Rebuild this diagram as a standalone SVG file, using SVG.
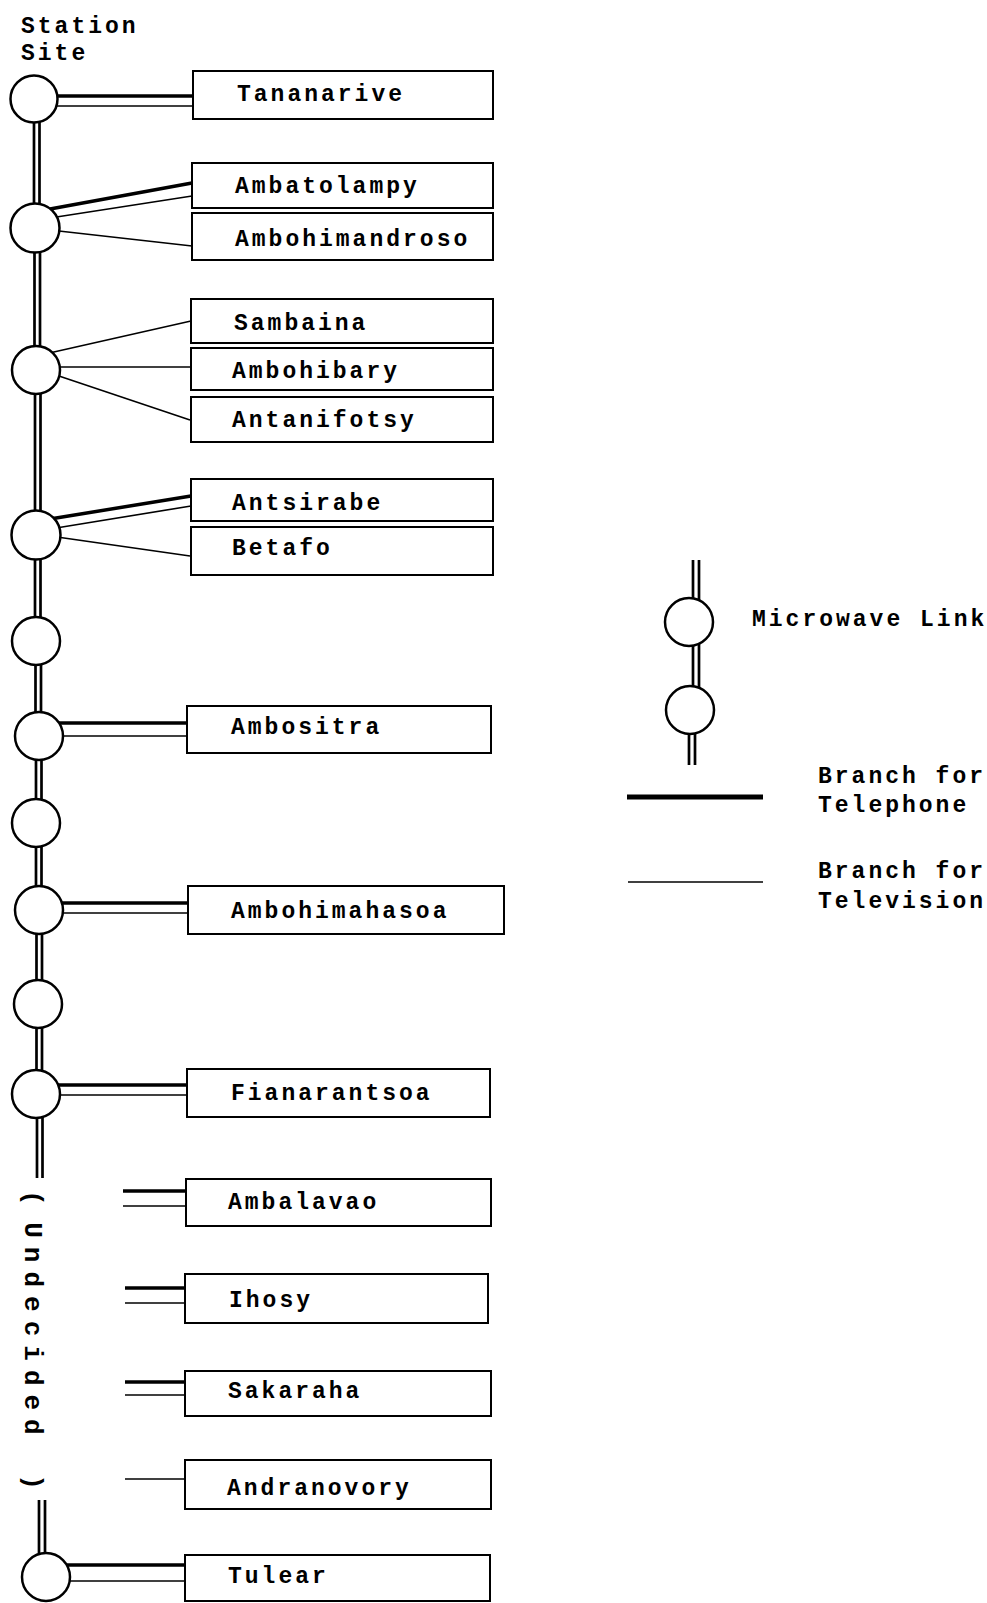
<svg xmlns="http://www.w3.org/2000/svg" width="987" height="1603" viewBox="0 0 987 1603">
<style>
.bg{fill:#fff}
.box{fill:#fff;stroke:#000;stroke-width:2}
.stn{fill:#fff;stroke:#000;stroke-width:2.5}
.main{stroke:#000;stroke-width:2.7;fill:none}
.tel{stroke:#000;stroke-width:3.5;fill:none}
.tv{stroke:#000;stroke-width:1.6;fill:none}
text{font-family:"Liberation Mono","DejaVu Sans Mono",monospace;font-weight:bold;font-size:23px;letter-spacing:3px;fill:#000}
.vert{font-size:26px;letter-spacing:9px}
</style>
<rect class="bg" x="0" y="0" width="987" height="1603"/>

<text x="21" y="33">Station</text>
<text x="21" y="60">Site</text>

<g id="connectors">
  <!-- main microwave trunk (double line) -->
  <path class="main" d="M34,99 V228 M39.5,99 V228"/>
  <path class="main" d="M34.5,228 V370 M40,228 V370"/>
  <path class="main" d="M35,370 V535 M40.5,370 V535"/>
  <path class="main" d="M35,535 V641 M40.5,535 V641"/>
  <path class="main" d="M35.5,641 V736 M41,641 V736"/>
  <path class="main" d="M36,736 V823 M41.5,736 V823"/>
  <path class="main" d="M36,823 V910 M41.5,823 V910"/>
  <path class="main" d="M36.5,910 V1004 M42,910 V1004"/>
  <path class="main" d="M36.5,1004 V1094 M42,1004 V1094"/>
  <path class="main" d="M37,1094 V1178 M42.5,1094 V1178"/>
  <path class="main" d="M39,1500 V1577 M45,1500 V1577"/>

  <!-- Tananarive -->
  <line class="tel" x1="50" y1="96" x2="193" y2="96"/>
  <line class="tv" x1="50" y1="106" x2="193" y2="106"/>
  <!-- Ambatolampy / Ambohimandroso -->
  <line class="tel" x1="50" y1="209" x2="192" y2="183"/>
  <line class="tv" x1="50" y1="218" x2="192" y2="196"/>
  <line class="tv" x1="50" y1="230" x2="192" y2="246"/>
  <!-- Sambaina / Ambohibary / Antanifotsy -->
  <line class="tv" x1="45" y1="354" x2="191" y2="321"/>
  <line class="tv" x1="50" y1="367" x2="191" y2="367"/>
  <line class="tv" x1="50" y1="373" x2="190" y2="420"/>
  <!-- Antsirabe / Betafo -->
  <line class="tel" x1="50" y1="519" x2="191" y2="496"/>
  <line class="tv" x1="50" y1="529" x2="191" y2="506"/>
  <line class="tv" x1="50" y1="536" x2="190" y2="556"/>
  <!-- Ambositra -->
  <line class="tel" x1="55" y1="723" x2="187" y2="723"/>
  <line class="tv" x1="55" y1="736" x2="187" y2="736"/>
  <!-- Ambohimahasoa -->
  <line class="tel" x1="55" y1="903" x2="188" y2="903"/>
  <line class="tv" x1="55" y1="913" x2="188" y2="913"/>
  <!-- Fianarantsoa -->
  <line class="tel" x1="55" y1="1085" x2="187" y2="1085"/>
  <line class="tv" x1="55" y1="1095" x2="187" y2="1095"/>
  <!-- Ambalavao -->
  <line class="tel" x1="123" y1="1191" x2="186" y2="1191"/>
  <line class="tv" x1="123" y1="1206" x2="186" y2="1206"/>
  <!-- Ihosy -->
  <line class="tel" x1="125" y1="1288" x2="185" y2="1288"/>
  <line class="tv" x1="125" y1="1303" x2="185" y2="1303"/>
  <!-- Sakaraha -->
  <line class="tel" x1="125" y1="1382" x2="185" y2="1382"/>
  <line class="tv" x1="125" y1="1395" x2="185" y2="1395"/>
  <!-- Andranovory -->
  <line class="tv" x1="125" y1="1479" x2="185" y2="1479"/>
  <!-- Tulear -->
  <line class="tel" x1="60" y1="1565" x2="185" y2="1565"/>
  <line class="tv" x1="60" y1="1581" x2="185" y2="1581"/>
</g>

<text class="vert" transform="translate(25,1190) rotate(90)" dx="0 0 -17 0 0 0 0 0 0 0 0 0 6">( Undecided )</text>

<g id="stations">
  <circle id="st1" class="stn" cx="34" cy="99" r="23.5"/>
  <circle id="st2" class="stn" cx="35" cy="228" r="24.5"/>
  <circle id="st3" class="stn" cx="36" cy="370" r="24"/>
  <circle id="st4" class="stn" cx="36" cy="535" r="24.5"/>
  <circle id="st5" class="stn" cx="36" cy="641" r="24"/>
  <circle id="st6" class="stn" cx="39" cy="736" r="24"/>
  <circle id="st7" class="stn" cx="36" cy="823" r="24"/>
  <circle id="st8" class="stn" cx="39" cy="910" r="24"/>
  <circle id="st9" class="stn" cx="38" cy="1004" r="24"/>
  <circle id="st10" class="stn" cx="36" cy="1094" r="24"/>
  <circle id="st11" class="stn" cx="46" cy="1577" r="24"/>
</g>

<g id="n-tananarive"><rect class="box" x="193" y="71" width="300" height="48"/><text x="237" y="101">Tananarive</text></g>
<g id="n-ambatolampy"><rect class="box" x="192" y="163" width="301" height="45"/><text x="235" y="193">Ambatolampy</text></g>
<g id="n-ambohimandroso"><rect class="box" x="192" y="213" width="301" height="47"/><text x="235" y="246">Ambohimandroso</text></g>
<g id="n-sambaina"><rect class="box" x="191" y="299" width="302" height="44"/><text x="234" y="330">Sambaina</text></g>
<g id="n-ambohibary"><rect class="box" x="191" y="348" width="302" height="42"/><text x="232" y="378">Ambohibary</text></g>
<g id="n-antanifotsy"><rect class="box" x="191" y="397" width="302" height="45"/><text x="232" y="427">Antanifotsy</text></g>
<g id="n-antsirabe"><rect class="box" x="191" y="479" width="302" height="42"/><text x="232" y="510">Antsirabe</text></g>
<g id="n-betafo"><rect class="box" x="191" y="527" width="302" height="48"/><text x="232" y="555">Betafo</text></g>
<g id="n-ambositra"><rect class="box" x="187" y="706" width="304" height="47"/><text x="231" y="734">Ambositra</text></g>
<g id="n-ambohimahasoa"><rect class="box" x="188" y="886" width="316" height="48"/><text x="231" y="918">Ambohimahasoa</text></g>
<g id="n-fianarantsoa"><rect class="box" x="187" y="1069" width="303" height="48"/><text x="231" y="1100">Fianarantsoa</text></g>
<g id="n-ambalavao"><rect class="box" x="186" y="1179" width="305" height="47"/><text x="228" y="1209">Ambalavao</text></g>
<g id="n-ihosy"><rect class="box" x="185" y="1274" width="303" height="49"/><text x="229" y="1307">Ihosy</text></g>
<g id="n-sakaraha"><rect class="box" x="185" y="1371" width="306" height="45"/><text x="228" y="1398">Sakaraha</text></g>
<g id="n-andranovory"><rect class="box" x="185" y="1460" width="306" height="49"/><text x="227" y="1495">Andranovory</text></g>
<g id="n-tulear"><rect class="box" x="185" y="1555" width="305" height="46"/><text x="228" y="1583">Tulear</text></g>

<g id="legend">
  <path class="main" d="M693,560 V710 M699,560 V710"/>
  <path class="main" d="M689,710 V765 M695,710 V765"/>
  <circle class="stn" cx="689" cy="622" r="24"/>
  <circle class="stn" cx="690" cy="710" r="24"/>
  <text x="752" y="626">Microwave Link</text>
  <line x1="627" y1="797" x2="763" y2="797" stroke="#000" stroke-width="5"/>
  <text x="818" y="783">Branch for</text>
  <text x="818" y="812">Telephone</text>
  <line class="tv" x1="628" y1="882" x2="763" y2="882"/>
  <text x="818" y="878">Branch for</text>
  <text x="818" y="908">Television</text>
</g>
</svg>
